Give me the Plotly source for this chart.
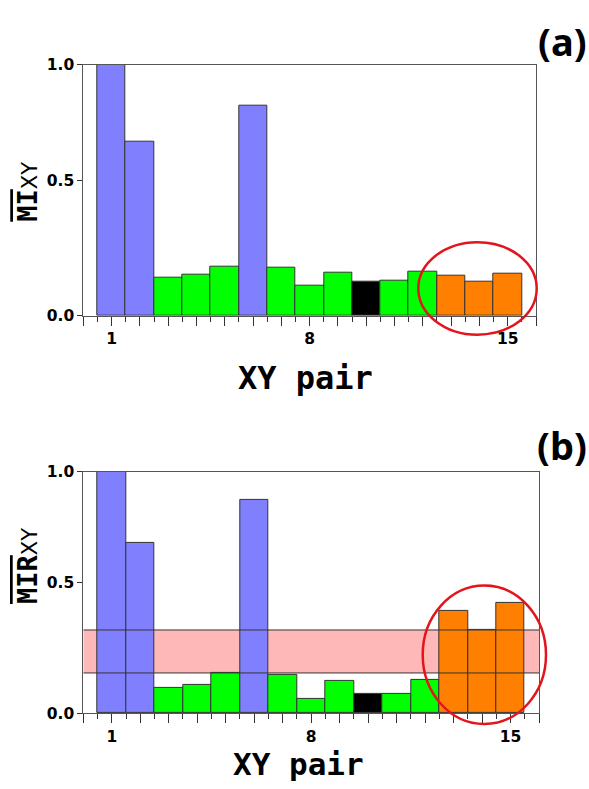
import plotly.graph_objects as go

W, H = 589, 789

pairs = list(range(1, 16))
mi_xy = [1.0, 0.694, 0.153, 0.165, 0.194, 0.835, 0.190, 0.120, 0.171, 0.136, 0.140, 0.176, 0.161, 0.136, 0.167]
mir_xy = [1.0, 0.707, 0.105, 0.116, 0.167, 0.885, 0.157, 0.061, 0.136, 0.080, 0.080, 0.140, 0.426, 0.345, 0.459]
groups = ["blue", "blue", "green", "green", "green", "blue", "green", "green", "green", "black", "green", "green", "orange", "orange", "orange"]
band_lo, band_hi = 0.167, 0.345
x_labels = {1: "1", 8: "8", 15: "15"}
y_tickvals = [0.0, 0.54, 1.0]
y_ticktext = ["0.0", "0.5", "1.0"]

palette = {"blue": "#8080FF", "green": "#00FF00", "black": "#000000", "orange": "#FF8000"}
colors = [palette[g] for g in groups]

# pixel layout
ax_a = dict(x0=83.3, x1=536.0, y0=57.0, y1=314.0)
ax_b = dict(x0=83.3, x1=539.0, y0=473.7, y1=720.7)

def px_to_paper_x(px):
    return px / W

def px_to_paper_y(py):
    return 1 - py / H

fig = go.Figure()
fig.add_trace(go.Bar(x=pairs, y=mi_xy, width=1.0, marker=dict(color=colors, line=dict(color="#333333", width=1)),
                     xaxis="x", yaxis="y", showlegend=False))
fig.add_trace(go.Bar(x=pairs, y=mir_xy, width=1.0, marker=dict(color=colors, line=dict(color="#333333", width=1)),
                     xaxis="x2", yaxis="y2", showlegend=False))

tick_font = dict(family="DejaVu Sans", size=15.5, color="#000000", weight="bold")
major_vals = list(range(0, 17))
major_text = [x_labels.get(v, "") for v in major_vals]
minor_vals = [v + 0.5 for v in range(0, 16)]

def xaxis(ax, anchor):
    return dict(domain=[px_to_paper_x(ax["x0"]), px_to_paper_x(ax["x1"])], range=[0, 16], anchor=anchor,
                tickmode="array", tickvals=major_vals, ticktext=major_text, ticks="outside", ticklen=9,
                tickcolor="#333333", tickfont=tick_font, showgrid=False, zeroline=False,
                showline=True, linecolor="#555555", linewidth=1, mirror=True,
                minor=dict(tickmode="array", tickvals=minor_vals, ticks="outside", ticklen=5, tickcolor="#333333", showgrid=False),
                fixedrange=True)

def yaxis(ax, anchor):
    return dict(domain=[px_to_paper_y(ax["y1"]), px_to_paper_y(ax["y0"])], range=[0, 1], anchor=anchor,
                tickmode="array", tickvals=y_tickvals, ticktext=y_ticktext, ticks="outside", ticklen=5,
                tickcolor="#333333", tickfont=tick_font, showgrid=False, zeroline=False,
                showline=True, linecolor="#555555", linewidth=1, mirror=True, fixedrange=True)

shapes = []
# pink band in panel b
shapes.append(dict(type="rect", xref="x2", yref="y2", x0=0, x1=16, y0=band_lo, y1=band_hi,
                   fillcolor="#FFB8B8", line=dict(width=0), layer="below"))
for yv in (band_lo, band_hi):
    shapes.append(dict(type="line", xref="x2", yref="y2", x0=0, x1=16, y0=yv, y1=yv,
                       line=dict(color="#333333", width=1), layer="above"))
# red ellipses
for (ex0, ex1, ey0, ey1) in [(418.3, 536.7, 238.7, 333.3), (422.7, 546.0, 590.0, 731.7)]:
    shapes.append(dict(type="circle", xref="paper", yref="paper",
                       x0=px_to_paper_x(ex0), x1=px_to_paper_x(ex1),
                       y0=px_to_paper_y(ey1), y1=px_to_paper_y(ey0),
                       line=dict(color="#E4141C", width=2.5), layer="above"))

title_font = dict(family="DejaVu Sans Mono", size=32, color="#000000", weight="bold")
title_font_b = dict(family="DejaVu Sans Mono", size=31, color="#000000", weight="bold")
ylab_font = dict(family="DejaVu Sans Mono", size=27, color="#000000", weight="bold")
sub_style = "font-family:DejaVu Sans;font-weight:normal;font-size:21px"

annotations = [
    dict(text="XY pair", x=px_to_paper_x(305), y=px_to_paper_y(378), xref="paper", yref="paper",
         showarrow=False, font=title_font, xanchor="center", yanchor="middle"),
    dict(text="XY pair", x=px_to_paper_x(298), y=px_to_paper_y(773), xref="paper", yref="paper",
         showarrow=False, font=title_font_b, xanchor="center", yanchor="middle"),
    dict(text='<span style="text-decoration:overline">MI</span><span style="' + sub_style + '">XY</span>',
         x=px_to_paper_x(28), y=px_to_paper_y(187), xref="paper", yref="paper", textangle=-90,
         showarrow=False, font=ylab_font, xanchor="center", yanchor="middle"),
    dict(text='<span style="text-decoration:overline">MIR</span><span style="' + sub_style + '">XY</span>',
         x=px_to_paper_x(28), y=px_to_paper_y(570), xref="paper", yref="paper", textangle=-90,
         showarrow=False, font=ylab_font, xanchor="center", yanchor="middle"),
    dict(text="(a)", x=px_to_paper_x(562), y=px_to_paper_y(33), xref="paper", yref="paper",
         showarrow=False, font=dict(family="Noto Sans", size=38, color="#000000", weight="bold"),
         xanchor="center", yanchor="middle"),
    dict(text="(b)", x=px_to_paper_x(562), y=px_to_paper_y(446), xref="paper", yref="paper",
         showarrow=False, font=dict(family="Noto Sans", size=38, color="#000000", weight="bold"),
         xanchor="center", yanchor="middle"),
]

fig.update_layout(
    width=W, height=H, margin=dict(l=0, r=0, t=0, b=0),
    paper_bgcolor="white", plot_bgcolor="white", bargap=0,
    xaxis=xaxis(ax_a, "y"), yaxis=yaxis(ax_a, "x"),
    xaxis2=xaxis(ax_b, "y2"), yaxis2=yaxis(ax_b, "x2"),
    shapes=shapes, annotations=annotations,
)

fig.write_html("out.html", config={"displayModeBar": False},
               post_script="document.body.style.margin='0';document.body.style.overflow='hidden';")
